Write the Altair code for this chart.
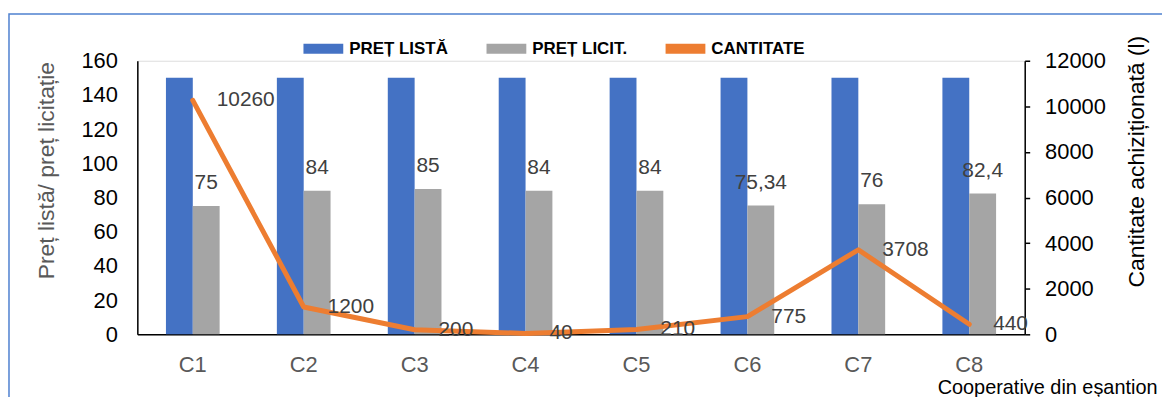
import altair as alt
import pandas as pd

categories = ["C1", "C2", "C3", "C4", "C5", "C6", "C7", "C8"]
pret_lista = [150, 150, 150, 150, 150, 150, 150, 150]
pret_licit = [75, 84, 85, 84, 84, 75.34, 76, 82.4]
cantitate = [10260, 1200, 200, 40, 210, 775, 3708, 440]

series_names = ["PREȚ LISTĂ", "PREȚ LICIT.", "CANTITATE"]
series_colors = ["#4472C4", "#A5A5A5", "#ED7D31"]
left_ticks = [0, 20, 40, 60, 80, 100, 120, 140, 160]
right_ticks = [0, 2000, 4000, 6000, 8000, 10000, 12000]


def fmt(v):
    s = f"{v:g}"
    return s.replace(".", ",")


bars_df = pd.DataFrame({
    "cat": categories + categories,
    "series": [series_names[0]] * len(categories) + [series_names[1]] * len(categories),
    "value": pret_lista + pret_licit,
})
bars_df["label"] = [fmt(v) for v in bars_df["value"]]

line_df = pd.DataFrame({
    "cat": categories,
    "q": cantitate,
    "label": [str(v) for v in cantitate],
})

FONT = "Liberation Sans"

x_scale = alt.Scale(domain=categories, paddingInner=0.516, paddingOuter=0.258)
x_axis = alt.Axis(
    title="Cooperative din eșantion", titleFontSize=20, titleFontWeight="normal",
    titleColor="black", titleAnchor="end", titleAlign="right", titleX=1025, titleY=59,
    titleBaseline="alphabetic",
    labelAngle=0, labelFontSize=22, labelColor="#595959", labelPadding=20,
    ticks=False, domainColor="black", domainWidth=1.5, grid=False, labelFont=FONT,
    titleFont=FONT,
)
x_enc = alt.X("cat:N", scale=x_scale, sort=categories, axis=x_axis)
off_scale = alt.Scale(domain=series_names[:2])
off_enc = alt.XOffset("series:N", scale=off_scale, sort=series_names[:2])

color_scale = alt.Scale(domain=series_names, range=series_colors)
legend = alt.Legend(
    orient="none", legendX=167, legendY=-32, direction="horizontal", columns=3,
    title=None, symbolType="M-1,-0.25H1V0.25H-1Z", symbolSize=1600, symbolStrokeWidth=0,
    labelFontSize=17, labelFontWeight="bold", labelColor="black", labelFont=FONT,
    columnPadding=38, labelOffset=6,
)

left_axis = alt.Axis(
    title="Preț listă/ preț licitație", values=left_ticks, tickCount=9, ticks=False,
    grid=False, labelOverlap=False, format="d",
    labelFontSize=22, labelColor="black", labelPadding=20, domainColor="black",
    domainWidth=1.5, titleFontSize=23, titleFontWeight="normal", titleColor="#595959",
    titleAngle=270, titleX=-91, titleY=110, titleBaseline="middle", titleAlign="center",
    labelFont=FONT, titleFont=FONT,
)
y_left = alt.Y("value:Q", scale=alt.Scale(domain=[0, 160], nice=False), stack=None, axis=left_axis)

bars = alt.Chart(bars_df).mark_bar().encode(
    x=x_enc,
    xOffset=off_enc,
    y=y_left,
    color=alt.Color("series:N", scale=color_scale, legend=legend),
)

bar_text = alt.Chart(bars_df).transform_filter(
    alt.datum.series == series_names[1]
).mark_text(dy=-17, baseline="alphabetic", fontSize=21, color="#404040", font=FONT).encode(
    x=x_enc,
    xOffset=off_enc,
    y=y_left,
    text="label:N",
)

frame = alt.Chart(bars_df).mark_rect(
    filled=False, stroke="#4F81D0", strokeWidth=1.5
).encode(
    x=alt.value(-129), x2=alt.value(1200), y=alt.value(-47), y2=alt.value(500)
).transform_filter(alt.datum.cat == categories[0]).transform_filter(
    alt.datum.series == series_names[0]
)

left = alt.layer(frame, bars, bar_text)

right_axis = alt.Axis(
    orient="right", title="Cantitate achiziționată (l)", values=right_ticks, tickCount=7,
    grid=False, labelOverlap=False, format="d",
    tickSize=5, tickColor="black", tickWidth=1.5, domainColor="black", domainWidth=1.5,
    labelFontSize=22, labelColor="black", labelPadding=15,
    titleFontSize=23, titleFontWeight="normal", titleColor="black",
    titleAngle=270, titleX=112, titleY=101, titleBaseline="middle", titleAlign="center",
    labelFont=FONT, titleFont=FONT,
)
y_right = alt.Y("q:Q", scale=alt.Scale(domain=[0, 12000], nice=False), axis=right_axis)

line = alt.Chart(line_df).mark_line(strokeWidth=5, strokeCap="round", strokeJoin="round").encode(
    x=x_enc,
    y=y_right,
    color=alt.datum(series_names[2]),
)

line_text = alt.Chart(line_df).mark_text(
    align="left", dx=24, baseline="middle", fontSize=21, color="#404040", font=FONT
).encode(
    x=x_enc,
    y=y_right,
    text="label:N",
)

right = alt.layer(line, line_text)

chart = alt.layer(left, right).resolve_scale(y="independent").properties(
    width=892, height=275,
    padding={"left": 130, "top": 52, "right": 138, "bottom": 62},
    autosize=alt.AutoSizeParams(type="none"),
).configure_view(stroke=None, strokeWidth=0).configure(font=FONT).configure_axis(labelOverlap=False)

chart.save("out.html", embed_options={"renderer": "svg", "actions": False})
